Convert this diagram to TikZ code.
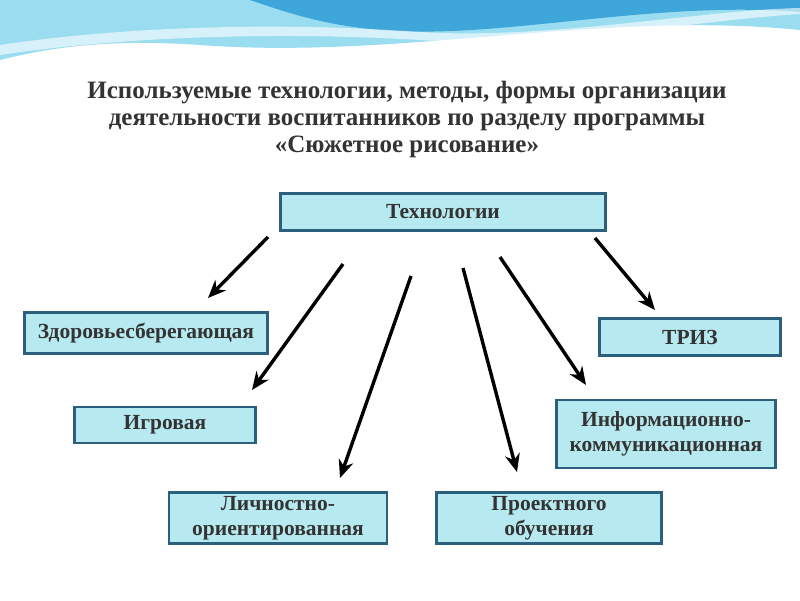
\documentclass[tikz,border=0pt]{standalone}
\usepackage{fontspec}
\setmainfont{Liberation Serif}
\usetikzlibrary{arrows.meta}
\definecolor{boxfill}{HTML}{B7EAF0}
\definecolor{boxline}{HTML}{2A5F7E}
\definecolor{wave1}{HTML}{3FA6DA}
\definecolor{wave2}{HTML}{9ADDF0}
\tikzset{
  tbox/.style={draw=boxline, line width=2.6pt, fill=boxfill, align=center, font=\fontsize{21.5}{25}\selectfont\bfseries, text=black!80, inner sep=0pt},
  arr/.style={-{Stealth[length=18pt,width=15pt]}, line width=3.4pt, black}
}
\begin{document}
\begin{tikzpicture}[x=1pt,y=-1pt]
\useasboundingbox (0,0) rectangle (800,600);
\fill[white] (0,0) rectangle (800,600);
% top decoration
\fill[wave2] (0,0) -- (800,0) -- (800,30) .. controls (600,10) and (400,60) .. (200,45) .. controls (100,38) and (40,50) .. (0,60) -- cycle;
\fill[wave1] (250,0) -- (800,0) -- (800,12) .. controls (650,0) and (500,40) .. (380,30) .. controls (320,25) and (280,10) .. (250,0) -- cycle;
\fill[white, opacity=0.6] (0,45) .. controls (100,30) and (250,20) .. (420,32) .. controls (550,40) and (700,10) .. (800,8) -- (800,14) .. controls (700,20) and (550,48) .. (420,40) .. controls (250,30) and (100,40) .. (0,55) -- cycle;
% title
\node[align=center, font=\fontsize{25}{27}\selectfont\bfseries, text=black!80] (title) at (407,119)
 {Используемые технологии, методы, формы организации\\деятельности воспитанников по разделу программы\\«Сюжетное рисование»};
% boxes
\node[tbox, minimum width=325, minimum height=37] (tech) at (443,212) {Технологии};
\node[tbox, minimum width=243, minimum height=41] (zdr) at (146,333) {Здоровьесберегающая};
\node[tbox, minimum width=181, minimum height=37] (triz) at (690,337) {ТРИЗ};
\node[tbox, minimum width=181, minimum height=36] (igr) at (165,425) {Игровая};
\node[tbox, minimum width=219, minimum height=68] (ikt) at (666,434) {Информационно-\\коммуникационная};
\node[tbox, minimum width=218, minimum height=51] (lich) at (278,518) {Личностно-\\ориентированная};
\node[tbox, minimum width=225, minimum height=51] (proj) at (549,518) {Проектного\\обучения};
% arrows
\coordinate (s1) at (268,237); \coordinate (e1) at (208,298);
\coordinate (s2) at (343,264); \coordinate (e2) at (252,390);
\coordinate (s3) at (411,276); \coordinate (e3) at (340,478);
\coordinate (s4) at (463,268); \coordinate (e4) at (517,472);
\coordinate (s5) at (500,257); \coordinate (e5) at (586,385);
\coordinate (s6) at (595,238); \coordinate (e6) at (655,310);
\foreach \i in {1,...,6} \draw[arr] (s\i) -- (e\i);
\end{tikzpicture}
\end{document}
